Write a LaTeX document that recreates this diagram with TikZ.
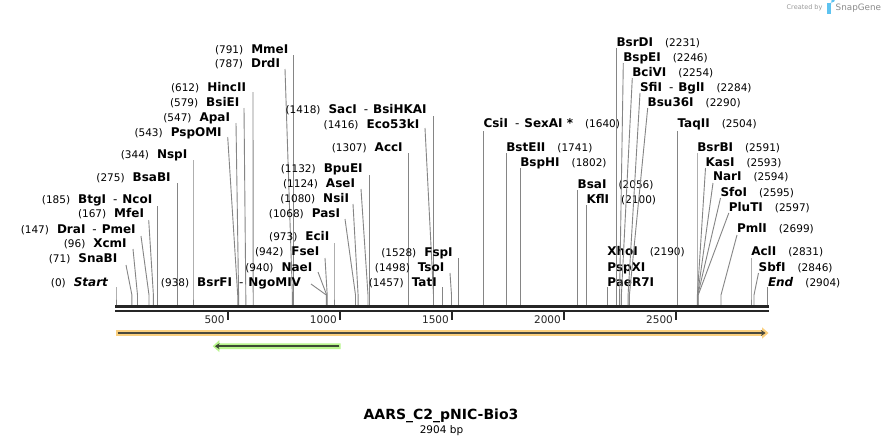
\documentclass[tikz,border=0pt]{standalone}
\usepackage{fontspec}
\setmainfont{DejaVu Sans}
\usetikzlibrary{arrows.meta}
\definecolor{sitegray}{HTML}{858585}
\definecolor{bardark}{HTML}{262626}
\definecolor{orangeband}{HTML}{FBD07F}
\definecolor{greenband}{HTML}{B8F58C}
\definecolor{innerdark}{HTML}{4A4A3E}
\definecolor{greendark}{HTML}{3C4A33}
\definecolor{logoblue}{HTML}{5EC3F0}
\newcommand\nm[1]{{\fontsize{12}{14}\selectfont\bfseries #1}}
\newcommand\snum[1]{{\fontsize{10.5}{12}\selectfont #1}}
\newcommand\sepd{\hspace{7pt}{\mdseries -}\hspace{5pt}}
% #1 id, #2 text end x, #3 text y, #4 top x, #5 top y, #6 site x, #7 number, #8 name
\newcommand\Lsite[8]{%
  \node[lbl, anchor=base east] (#1) at (#2,#3+4.4) {\snum{#7}\hspace{8pt}\nm{#8}};
  \coordinate (#1t) at (#4,#5);
  \coordinate (#1k) at (#6,295);
  \coordinate (#1s) at (#6,305);
  \draw[site] (#1t) -- (#1k) -- (#1s);
}
\newcommand\Rsite[8]{%
  \node[lbl, anchor=base west] (#1) at (#2,#3+4.4) {\nm{#8}\hspace{12pt}\snum{#7}};
  \coordinate (#1t) at (#4,#5);
  \coordinate (#1k) at (#6,295);
  \coordinate (#1s) at (#6,305);
  \draw[site] (#1t) -- (#1k) -- (#1s);
}
\begin{document}
\begin{tikzpicture}[x=1pt,y=-1pt,
  site/.style={draw=sitegray, line width=0.9pt},
  lbl/.style={inner sep=0pt, outer sep=0pt},
  ticklbl/.style={inner sep=0pt, anchor=base east, font=\fontsize{10.5}{12}\selectfont, text=bardark},
  tickmark/.style={draw=bardark, line width=2pt}]
\useasboundingbox[fill=white] (0,0) rectangle (884,445);

% ---- left-hand labels
\Lsite{start}{108.3}{281.7}{116}{287}{116}{(0)}{\textit{Start}}
\Lsite{snabi}{117.3}{258.3}{126}{265}{131.9}{(71)}{SnaBI}
\Lsite{xcmi}{126.7}{243.3}{133}{249}{137.5}{(96)}{XcmI}
\Lsite{drai}{135.7}{229}{141}{236}{149}{(147)}{DraI\sepd PmeI}
\Lsite{mfei}{144}{213.3}{148.7}{220}{153.4}{(167)}{MfeI}
\Lsite{btgi}{152.3}{199.3}{157.5}{206}{157.5}{(185)}{BtgI\sepd NcoI}
\Lsite{bsabi}{170.7}{176.7}{177.7}{183}{177.7}{(275)}{BsaBI}
\Lsite{nspi}{187.3}{154}{193}{160}{193}{(344)}{NspI}
\Lsite{pspomi}{221.7}{131.7}{227.7}{137}{237.7}{(543)}{PspOMI}
\Lsite{apai}{230}{116.7}{236}{123}{238.6}{(547)}{ApaI}
\Lsite{bsiei}{239.3}{101.7}{244}{108}{245.8}{(579)}{BsiEI}
\Lsite{hincii}{246}{86.7}{253}{92}{253.2}{(612)}{HincII}
\Lsite{drdi}{280}{63.3}{285}{69}{292.4}{(787)}{DrdI}
\Lsite{mmei}{288.3}{49}{293.3}{55}{293.3}{(791)}{MmeI}
\Lsite{bsrfi}{301}{281.7}{311}{284}{326.3}{(938)}{BsrFI\sepd NgoMIV}
\Lsite{naei}{312.3}{266.7}{318}{272}{326.7}{(940)}{NaeI}
\Lsite{fsei}{319.3}{251}{325}{258}{327.2}{(942)}{FseI}
\Lsite{ecii}{329.3}{236}{334}{243}{334}{(973)}{EciI}
\Lsite{pasi}{340}{213.3}{345}{219}{355.5}{(1068)}{PasI}
\Lsite{nsii}{349}{198.3}{353}{204}{358.1}{(1080)}{NsiI}
\Lsite{asei}{355}{183.3}{361}{189}{368}{(1124)}{AseI}
\Lsite{bpuei}{362.7}{168.3}{369.5}{175}{369.5}{(1132)}{BpuEI}
\Lsite{acci}{402.7}{146.7}{408.7}{153}{408.7}{(1307)}{AccI}
\Lsite{ecoki}{419.3}{124}{425}{128}{433.5}{(1416)}{Eco53kI}
\Lsite{saci}{426.7}{109}{433.8}{116}{433.8}{(1418)}{SacI\sepd BsiHKAI}
\Lsite{tati}{436.7}{281.7}{442.5}{287}{442.5}{(1457)}{TatI}
\Lsite{tsoi}{444.3}{266.7}{450}{273}{451.5}{(1498)}{TsoI}
\Lsite{fspi}{452.7}{251.7}{458.5}{258}{458.5}{(1528)}{FspI}

% ---- right-hand labels
\Rsite{csii}{483.5}{123.3}{483.6}{131}{483.6}{(1640)}{CsiI\sepd SexAI *}
\Rsite{bsteii}{506.3}{146.7}{506.3}{153}{506.3}{(1741)}{BstEII}
\Rsite{bsphi}{520.3}{162.3}{520.3}{168}{520.3}{(1802)}{BspHI}
\Rsite{bsai}{577.7}{184}{577.5}{190}{577.5}{(2056)}{BsaI}
\Rsite{kfli}{586.5}{199}{586.6}{205}{586.6}{(2100)}{KflI}
\node[lbl, anchor=base west] (xhoi) at (607.3,251.3+4.4) {\nm{XhoI}\hspace{12pt}\snum{(2190)}};
\node[lbl, anchor=base west] (pspxi) at (607.3,266.7+4.4) {\nm{PspXI}};
\Rsite{paer}{607.3}{281.7}{607.1}{287}{607.1}{}{PaeR7I}
\Rsite{bsrdi}{616.5}{42.3}{616.3}{48}{616.3}{(2231)}{BsrDI}
\Rsite{bspei}{623.3}{57.3}{623.3}{63}{619.6}{(2246)}{BspEI}
\Rsite{bcivi}{632.3}{71.7}{632.3}{78}{621.4}{(2254)}{BciVI}
\Rsite{sfii}{640}{86.7}{640}{93}{628.1}{(2284)}{SfiI\sepd BglI}
\Rsite{bsu}{647.7}{101.7}{647.7}{108}{629.4}{(2290)}{Bsu36I}
\Rsite{taqii}{677.5}{123.3}{677.4}{131}{677.4}{(2504)}{TaqII}
\Rsite{bsrbi}{697.3}{146.7}{697}{153}{697}{(2591)}{BsrBI}
\Rsite{kasi}{705.5}{161.7}{705.5}{168}{697.4}{(2593)}{KasI}
\Rsite{nari}{713}{176}{713}{183}{697.6}{(2594)}{NarI}
\Rsite{sfoi}{720.5}{191.7}{720.5}{198}{697.8}{(2595)}{SfoI}
\Rsite{pluti}{728.8}{206.7}{728.8}{213}{698.2}{(2597)}{PluTI}
\Rsite{pmli}{737}{228.3}{737}{235}{721}{(2699)}{PmlI}
\Rsite{acli}{751.3}{251}{751}{258}{751}{(2831)}{AclI}
\Rsite{sbfi}{758.7}{266.7}{758.5}{273}{754}{(2846)}{SbfI}
\Rsite{endsite}{768}{281.7}{767.5}{287}{767.5}{(2904)}{\textit{End}}

% ---- sequence bar (double line)
\coordinate (barL) at (115,306.8);
\coordinate (barR) at (769,306.8);
\coordinate (bar2L) at (115,311.2);
\coordinate (bar2R) at (769,311.2);
\draw[draw=bardark, line width=2.7pt] (barL) -- (barR);
\draw[draw=bardark, line width=2.3pt] (bar2L) -- (bar2R);

% ---- ticks
\foreach \n/\xx in {500/228.1,1000/340.2,1500/452.3,2000/564.3,2500/676.4}{
  \coordinate (tk\n a) at (\xx,311);
  \coordinate (tk\n b) at (\xx,319.5);
  \draw[tickmark] (tk\n a) -- (tk\n b);
  \node[ticklbl] (tl\n) at (\xx-3.3,323.3) {\n};
}

% ---- features
\fill[orangeband] (116,330.2) -- (762,330.2) -- (762,327.3) -- (768.5,333) -- (762,338.7) -- (762,335.8) -- (116,335.8) -- cycle;
\coordinate (oA) at (117.5,333);
\coordinate (oB) at (765.5,333);
\draw[draw=innerdark, line width=2pt, -{Stealth[length=4.5pt,width=6pt]}] (oA) -- (oB);

\fill[greenband] (340.7,343.3) -- (219.3,343.3) -- (219.3,340.2) -- (212.7,346.2) -- (219.3,352) -- (219.3,349) -- (340.7,349) -- cycle;
\coordinate (gA) at (339.3,346.2);
\coordinate (gB) at (215,346.2);
\draw[draw=greendark, line width=2pt, -{Stealth[length=4.5pt,width=6pt]}] (gA) -- (gB);

% ---- title
\node[inner sep=0pt, anchor=base] (title) at (441,419) {\fontsize{14}{16}\selectfont\bfseries AARS\_C2\_pNIC-Bio3};
\node[inner sep=0pt, anchor=base] (len) at (441.5,433.3) {\fontsize{10.5}{12}\selectfont 2904 bp};

% ---- watermark
\node[inner sep=0pt, anchor=base west, text=black!40] (created) at (786.5,9.6) {\fontsize{6.5}{8}\selectfont Created by};
\fill[logoblue] (826.5,2.5) rectangle (830.5,14);
\fill[logoblue] (830.5,2.5) -- (832,2.5) arc[start angle=90,end angle=-90,radius=3] -- (830.5,8.5) -- cycle;
\node[inner sep=0pt, anchor=base west, text=black!45] (snap) at (835.5,10.3) {\fontsize{8.8}{10}\selectfont SnapGene};
\end{tikzpicture}
\end{document}
